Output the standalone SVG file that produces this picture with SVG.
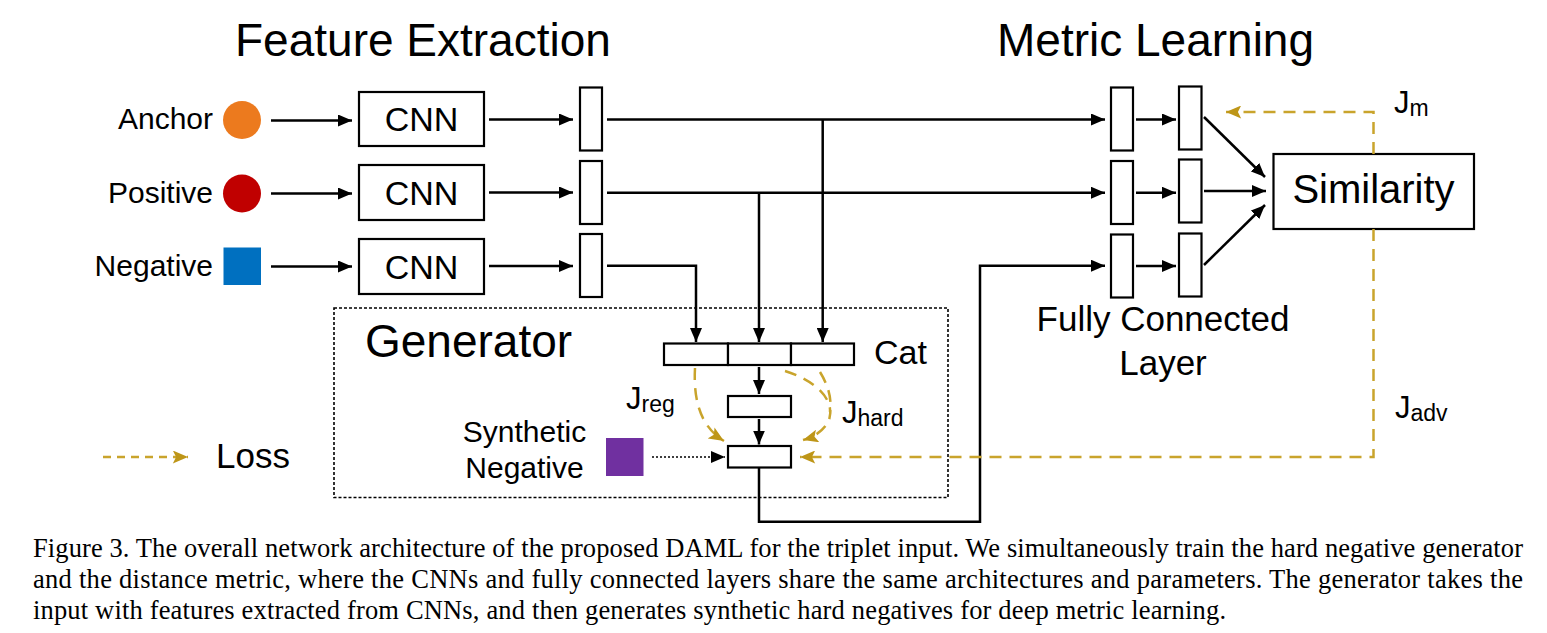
<svg xmlns="http://www.w3.org/2000/svg" width="1547" height="633" viewBox="0 0 1547 633">
<defs>
<style>
.t{font-family:"Liberation Sans",Arial,sans-serif;fill:#000}
.box{fill:#fff;stroke:#000;stroke-width:2.2}
.ln{fill:none;stroke:#000;stroke-width:2.5}
.loss{fill:none;stroke:#C9A42C;stroke-width:2.5;stroke-dasharray:12 8}
.cap{font-family:"Liberation Serif","Times New Roman",serif;font-size:26.5px;fill:#000}
</style>
<marker id="ab" viewBox="0 0 14 12" refX="14" refY="6" markerWidth="14" markerHeight="12" markerUnits="userSpaceOnUse" orient="auto">
<path d="M0,0 L14,6 L0,12 Z" fill="#000"/>
</marker>
<marker id="ag" viewBox="0 0 14 12" refX="14" refY="6" markerWidth="16" markerHeight="13" markerUnits="userSpaceOnUse" orient="auto">
<path d="M0,0 L14,6 L0,12 L3,6 Z" fill="#BE9618"/>
</marker>
</defs>
<rect width="1547" height="633" fill="#fff"/>

<g id="titles">
<text class="t" x="235" y="56" font-size="46">Feature Extraction</text>
<text class="t" x="997" y="56" font-size="46">Metric Learning</text>
</g>

<g id="inputs">
<text class="t" x="213" y="129" font-size="30" text-anchor="end">Anchor</text>
<circle cx="242" cy="120" r="19" fill="#EC7A1E"/>
<text class="t" x="213" y="203" font-size="30" text-anchor="end">Positive</text>
<circle cx="242" cy="193.5" r="19" fill="#C00000"/>
<text class="t" x="213" y="276" font-size="30" text-anchor="end">Negative</text>
<rect x="223.5" y="247.5" width="37.5" height="37.5" fill="#0070C0"/>
</g>

<g id="cnn1"><rect class="box" x="359" y="92" width="125" height="54"/><text class="t" x="421.5" y="131" font-size="34" text-anchor="middle">CNN</text></g>
<g id="cnn2"><rect class="box" x="359" y="165" width="125" height="55"/><text class="t" x="421.5" y="204.5" font-size="34" text-anchor="middle">CNN</text></g>
<g id="cnn3"><rect class="box" x="359" y="239" width="125" height="55"/><text class="t" x="421.5" y="278.5" font-size="34" text-anchor="middle">CNN</text></g>

<g id="feat1"><rect class="box" x="580" y="87.5" width="22" height="63"/></g>
<g id="feat2"><rect class="box" x="580" y="161" width="22" height="63"/></g>
<g id="feat3"><rect class="box" x="580" y="234" width="22" height="63"/></g>

<g id="fc1a"><rect class="box" x="1111" y="87.5" width="22" height="63"/></g>
<g id="fc2a"><rect class="box" x="1111" y="161" width="22" height="63"/></g>
<g id="fc3a"><rect class="box" x="1111" y="234.5" width="22" height="63"/></g>
<g id="fc1b"><rect class="box" x="1179" y="86.5" width="22.5" height="63"/></g>
<g id="fc2b"><rect class="box" x="1179" y="159.5" width="22.5" height="63"/></g>
<g id="fc3b"><rect class="box" x="1179" y="233.5" width="22.5" height="63"/></g>
<g id="fc-label">
<text class="t" x="1163" y="331" font-size="35" text-anchor="middle">Fully Connected</text>
<text class="t" x="1163" y="375" font-size="35" text-anchor="middle">Layer</text>
</g>

<g id="similarity"><rect class="box" x="1273.5" y="154" width="200.5" height="75"/><text class="t" x="1373.5" y="203" font-size="40" text-anchor="middle">Similarity</text></g>

<g id="generator">
<rect x="334" y="308" width="614" height="189.5" fill="none" stroke="#000" stroke-width="1.6" stroke-dasharray="3 2"/>
<text class="t" x="365" y="357" font-size="46">Generator</text>
</g>

<g id="cat">
<rect class="box" x="664" y="343.5" width="64" height="21.5"/>
<rect class="box" x="728" y="343.5" width="63" height="21.5"/>
<rect class="box" x="791" y="343.5" width="63" height="21.5"/>
<text class="t" x="874" y="364" font-size="34">Cat</text>
</g>
<g id="hidden"><rect class="box" x="728" y="396" width="63" height="21"/></g>
<g id="synthetic-feat"><rect class="box" x="728" y="446" width="63" height="21.5"/></g>

<g id="synthetic-negative">
<text class="t" x="524.5" y="442" font-size="30" text-anchor="middle">Synthetic</text>
<text class="t" x="524.5" y="478" font-size="30" text-anchor="middle">Negative</text>
<rect x="606" y="438" width="37.5" height="38" fill="#7030A0"/>
</g>

<g id="loss-labels">
<text class="t" x="626" y="409" font-size="31">J<tspan font-size="23" dy="3">reg</tspan></text>
<text class="t" x="842" y="423" font-size="31">J<tspan font-size="23" dy="3">hard</tspan></text>
<text class="t" x="1394" y="113" font-size="31">J<tspan font-size="23" dy="3">m</tspan></text>
<text class="t" x="1395" y="418" font-size="31">J<tspan font-size="23" dy="3">adv</tspan></text>
</g>

<g id="legend">
<path d="M103,457 H188" fill="none" stroke="#C9A42C" stroke-width="2.5" stroke-dasharray="8 6" marker-end="url(#ag)"/>
<text class="t" x="216" y="468" font-size="35">Loss</text>
</g>

<g id="connectors">
<path class="ln" d="M271,120.5 H352" marker-end="url(#ab)"/>
<path class="ln" d="M271,193.5 H352" marker-end="url(#ab)"/>
<path class="ln" d="M271,266.5 H352" marker-end="url(#ab)"/>
<path class="ln" d="M489,119.5 H573" marker-end="url(#ab)"/>
<path class="ln" d="M489,192.5 H573" marker-end="url(#ab)"/>
<path class="ln" d="M489,266 H573" marker-end="url(#ab)"/>
<path class="ln" d="M607,119.5 H1105" marker-end="url(#ab)"/>
<path class="ln" d="M607,192.7 H1105" marker-end="url(#ab)"/>
<path class="ln" d="M822.7,119.5 V342" marker-end="url(#ab)"/>
<path class="ln" d="M759,192.7 V342" marker-end="url(#ab)"/>
<path class="ln" d="M607,265.7 H696 V342" marker-end="url(#ab)"/>
<path class="ln" d="M759,367 V394" marker-end="url(#ab)"/>
<path class="ln" d="M759,419 V444.5" marker-end="url(#ab)"/>
<path class="ln" d="M759,468 V521.7 H980 V265.7 H1105" marker-end="url(#ab)"/>
<path class="ln" d="M1136,119.5 H1176" marker-end="url(#ab)"/>
<path class="ln" d="M1136,192.7 H1176" marker-end="url(#ab)"/>
<path class="ln" d="M1136,266 H1176" marker-end="url(#ab)"/>
<path class="ln" d="M1204,117 L1265,177" marker-end="url(#ab)"/>
<path class="ln" d="M1204,191 H1266" marker-end="url(#ab)"/>
<path class="ln" d="M1204,265 L1265,205" marker-end="url(#ab)"/>
<path d="M652,457 H725" fill="none" stroke="#000" stroke-width="1.6" stroke-dasharray="2 2" marker-end="url(#ab)"/>
<path class="loss" d="M1373.5,154 V112 H1226" marker-end="url(#ag)"/>
<path class="loss" d="M1373.5,229 V457 H800" marker-end="url(#ag)"/>
<path class="loss" d="M695,368 C693,405 703,428 724,441" marker-end="url(#ag)"/>
<path class="loss" d="M785,371 C815,380 836,400 829,420 C824,431 814,437 803,440" marker-end="url(#ag)"/>
<path class="loss" d="M820,372 C828,385 832,398 830,412"/>
</g>

<g id="caption">
<text class="cap" x="33" y="557" textLength="1490" lengthAdjust="spacing">Figure 3. The overall network architecture of the proposed DAML for the triplet input. We simultaneously train the hard negative generator</text>
<text class="cap" x="33" y="588" textLength="1490" lengthAdjust="spacing">and the distance metric, where the CNNs and fully connected layers share the same architectures and parameters. The generator takes the</text>
<text class="cap" x="33" y="619" textLength="1193" lengthAdjust="spacing">input with features extracted from CNNs, and then generates synthetic hard negatives for deep metric learning.</text>
</g>
</svg>
